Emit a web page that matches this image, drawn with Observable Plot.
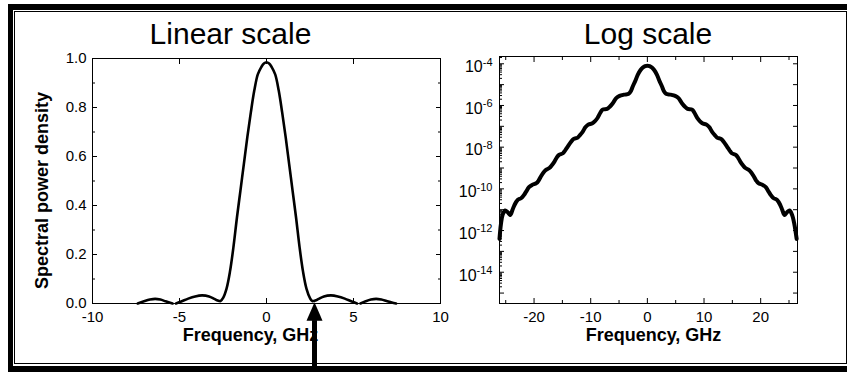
<!DOCTYPE html>
<html><head><meta charset="utf-8">
<script src="https://cdn.jsdelivr.net/npm/d3@7"></script>
<script src="https://cdn.jsdelivr.net/npm/@observablehq/plot@0.6"></script>
<style>
html,body{margin:0;padding:0;background:#fff;}
#stage{position:relative;width:847px;height:372px;overflow:hidden;font-family:"Liberation Sans",Arial,sans-serif;color:#000;}
.abs{position:absolute;}
#outer{left:8px;top:4px;width:900px;height:400px;background:#000;}
#inner{left:13px;top:10px;width:900px;height:356px;background:#fff;}
#line{left:14px;top:11px;width:833px;height:353px;border:1px solid #000;box-sizing:border-box;}
.ptitle{font-size:30px;line-height:30px;white-space:nowrap;transform:translateX(-50%);top:18.6px;}
#lin,#log{position:absolute;top:0;}
#lin{left:0;}
#log{left:440px;}
</style></head>
<body>
<div id="stage">
  <div id="outer" class="abs"></div>
  <div id="inner" class="abs"></div>
  <div id="line" class="abs"></div>
  <div class="abs ptitle" style="left:230.5px">Linear scale</div>
  <div class="abs ptitle" style="left:648px">Log scale</div>
  <div id="lin"></div>
  <div id="log"></div>
</div>
<script>
// ---- Data ----
// Linear-scale spectrum (GHz, normalised spectral power density); null = gap in the drawn curve
const linFreq = [-7.4, -7.0, -6.7, -6.4, -6.1, -5.8, -5.4, -5.3, -5.2, -4.9, -4.5, -4.1, -3.7, -3.3, -3.0, -2.8, -2.64, -2.5, -2.3, -2.1, -1.9, -1.7, -1.5, -1.3, -1.1, -0.9, -0.7, -0.5, -0.3, -0.15, 0, 0.15, 0.3, 0.5, 0.7, 0.9, 1.1, 1.3, 1.5, 1.7, 1.9, 2.1, 2.3, 2.5, 2.63, 2.8, 3.0, 3.3, 3.7, 4.1, 4.5, 4.9, 5.2, 5.3, 5.4, 5.7, 6.0, 6.3, 6.6, 6.9, 7.2, 7.45];
const linPower = [0.0, 0.010, 0.016, 0.019, 0.016, 0.009, 0.0, null, 0.0, 0.008, 0.020, 0.029, 0.033, 0.029, 0.019, 0.012, 0.010, 0.022, 0.06, 0.13, 0.23, 0.35, 0.46, 0.57, 0.68, 0.78, 0.87, 0.935, 0.965, 0.98, 0.985, 0.98, 0.965, 0.935, 0.87, 0.78, 0.68, 0.57, 0.46, 0.35, 0.23, 0.13, 0.06, 0.022, 0.010, 0.012, 0.019, 0.029, 0.033, 0.029, 0.020, 0.008, 0.0, null, 0.0, 0.009, 0.016, 0.019, 0.016, 0.010, 0.004, 0.0];

// Log-scale spectrum (GHz, log10 of spectral power density)
const logFreq = [-26.1, -25.85, -25.55, -25.1, -24.65, -24.2, -23.8, -23.5, -22.9, -22.3, -21.8, -21.4, -20.9, -20.35, -19.6, -19.2, -18.8, -18.3, -17.9, -17.3, -16.9, -16.4, -16.0, -15.6, -14.9, -14.5, -14.06, -13.5, -13.0, -12.3, -11.9, -11.4, -10.95, -10.5, -9.7, -9.25, -8.8, -8.3, -7.9, -7.1, -6.6, -6.1, -5.5, -4.9, -4.1, -3.3, -2.9, -2.6, -2.1, -1.7, -1.2, -0.8, -0.4, 0, 0.4, 0.8, 1.2, 1.7, 2.1, 2.6, 2.9, 3.3, 4.1, 4.9, 5.5, 6.1, 6.6, 7.1, 7.9, 8.3, 8.8, 9.25, 9.7, 10.5, 10.95, 11.4, 11.9, 12.3, 13.0, 13.5, 14.06, 14.5, 14.9, 15.6, 16.0, 16.4, 16.9, 17.3, 17.9, 18.3, 18.8, 19.2, 19.6, 20.35, 20.9, 21.4, 21.8, 22.3, 22.9, 23.5, 23.8, 24.2, 24.65, 25.1, 25.55, 25.95, 26.35];
const logPowerExp = [-12.4, -11.7, -11.25, -11.04, -11.12, -11.25, -11.0, -10.8, -10.53, -10.45, -10.3, -10.13, -9.92, -9.81, -9.73, -9.6, -9.41, -9.2, -9.09, -9.0, -8.88, -8.69, -8.5, -8.37, -8.29, -8.15, -7.97, -7.75, -7.6, -7.54, -7.42, -7.25, -7.05, -6.93, -6.85, -6.75, -6.6, -6.35, -6.2, -6.16, -6.05, -5.89, -5.65, -5.54, -5.48, -5.44, -5.3, -5.1, -4.8, -4.53, -4.3, -4.18, -4.11, -4.09, -4.11, -4.18, -4.3, -4.53, -4.8, -5.1, -5.3, -5.44, -5.48, -5.54, -5.65, -5.89, -6.05, -6.16, -6.2, -6.35, -6.6, -6.75, -6.85, -6.93, -7.05, -7.25, -7.42, -7.54, -7.6, -7.75, -7.97, -8.15, -8.29, -8.37, -8.5, -8.69, -8.88, -9.0, -9.09, -9.2, -9.41, -9.6, -9.73, -9.81, -9.92, -10.13, -10.3, -10.45, -10.53, -10.8, -11.0, -11.25, -11.12, -11.04, -11.25, -11.7, -12.4];

// Tick values / labels
const linXTicks = [-10, -5, 0, 5, 10];
const linXInner = [-5, 0, 5];
const linYTicks = [0, 0.2, 0.4, 0.6, 0.8, 1.0];
const linYMinor = [0.1, 0.3, 0.5, 0.7, 0.9];
const logXTicks = [-20, -10, 0, 10, 20];
const logXMinor = [-25, -15, -5, 5, 15, 25];
const logYLabelExp = [-4, -6, -8, -10, -12, -14];
const logYDecadeExp = [-15, -14, -13, -12, -11, -10, -9, -8, -7, -6, -5, -4];
const arrowFreq = [2.76];   // arrow marks the first spectral null

const FONT = '"Liberation Sans", Arial, sans-serif';
const linData = linFreq.map((f, i) => ({f, p: linPower[i] == null ? NaN : linPower[i]}));
const logData = logFreq.map((f, i) => ({f, p: Math.pow(10, logPowerExp[i])}));
const decades = logYDecadeExp.map(e => Math.pow(10, e));
const logMinor = [];
logYDecadeExp.forEach(e => { for (let m = 2; m <= 9; m++) { const v = m * Math.pow(10, e); if (v < Math.pow(10, -3.65)) logMinor.push(v); } });

const blank = () => "";
const arrowHead = {draw(ctx) { ctx.moveTo(-8, 0); ctx.lineTo(8, 0); ctx.lineTo(0, -18.5); ctx.closePath(); }};

const lin = Plot.plot({
  width: 460, height: 372,
  marginLeft: 92, marginRight: 20, marginTop: 58, marginBottom: 69,
  style: {fontFamily: FONT, fontSize: "15px", background: "transparent", overflow: "visible", color: "#000"},
  x: {domain: [-10, 10]},
  y: {domain: [0, 1]},
  marks: [
    Plot.frame({stroke: "#000"}),
    Plot.axisX({anchor: "bottom", ticks: linXTicks, tickSize: 0, tickPadding: 8, tickFormat: d => String(d), label: null, fontSize: 15}),
    Plot.axisX({anchor: "bottom", ticks: linXInner, tickSize: -5, tickFormat: blank, label: null}),
    Plot.axisX({anchor: "top", ticks: linXInner, tickSize: -5, tickFormat: blank, label: null}),
    Plot.axisY({anchor: "left", ticks: linYTicks, tickSize: 0, tickPadding: 6, tickFormat: d => d.toFixed(1), label: null, fontSize: 15}),
    Plot.axisY({anchor: "left", ticks: linYTicks, tickSize: -5, tickFormat: blank, label: null}),
    Plot.axisY({anchor: "left", ticks: linYMinor, tickSize: -3, tickFormat: blank, label: null}),
    Plot.axisY({anchor: "right", ticks: linYTicks, tickSize: -5, tickFormat: blank, label: null}),
    Plot.axisY({anchor: "right", ticks: linYMinor, tickSize: -3, tickFormat: blank, label: null}),
    Plot.text(["Spectral power density"], {frameAnchor: "left", textAnchor: "middle", lineAnchor: "middle", rotate: -90, dx: -50, dy: 9.5, fontWeight: "bold", fontSize: 18}),
    Plot.text(["Frequency, GHz"], {frameAnchor: "bottom", textAnchor: "middle", lineAnchor: "top", dy: 25, dx: -16, fontWeight: "bold", fontSize: 18}),
    Plot.line(linData, {x: "f", y: "p", curve: "catmull-rom", stroke: "#000", strokeWidth: 2.6, strokeLinejoin: "round"}),
    Plot.ruleX(arrowFreq, {x: d => d, y1: -0.32, y2: -0.07, stroke: "#000", strokeWidth: 5}),
    Plot.dot(arrowFreq, {x: d => d, y: -0.07, r: 5, symbol: arrowHead, fill: "#000", stroke: null})
  ]
});
document.getElementById("lin").appendChild(lin);

const log = Plot.plot({
  width: 407, height: 372,
  marginLeft: 59, marginRight: 50, marginTop: 56, marginBottom: 69,
  style: {fontFamily: FONT, fontSize: "15px", background: "transparent", overflow: "visible", color: "#000"},
  x: {domain: [-26.1, 26.5]},
  y: {type: "log", domain: [Math.pow(10, -15.5), Math.pow(10, -3.65)]},
  marks: [
    Plot.frame({stroke: "#000"}),
    Plot.axisX({anchor: "bottom", ticks: logXTicks, tickSize: 0, tickPadding: 8, tickFormat: d => String(d), label: null, fontSize: 15}),
    Plot.axisX({anchor: "bottom", ticks: logXTicks, tickSize: -5, tickFormat: blank, label: null}),
    Plot.axisX({anchor: "bottom", ticks: logXMinor, tickSize: -3, tickFormat: blank, label: null}),
    Plot.axisX({anchor: "top", ticks: logXTicks, tickSize: -5, tickFormat: blank, label: null}),
    Plot.axisX({anchor: "top", ticks: logXMinor, tickSize: -3, tickFormat: blank, label: null}),
    Plot.axisY({anchor: "left", ticks: logYLabelExp.map(e => Math.pow(10, e)), tickSize: 0, tickPadding: 7,
      tickFormat: d => "10^" + Math.round(Math.log10(d)), label: null, fontSize: 16}),
    Plot.axisY({anchor: "left", ticks: decades, tickSize: -5, tickFormat: blank, label: null}),
    Plot.axisY({anchor: "left", ticks: logMinor, tickSize: -3, tickFormat: blank, label: null}),
    Plot.axisY({anchor: "right", ticks: decades, tickSize: -5, tickFormat: blank, label: null}),
    Plot.text(["Frequency, GHz"], {frameAnchor: "bottom", textAnchor: "middle", lineAnchor: "top", dy: 25, dx: 5, fontWeight: "bold", fontSize: 18}),
    Plot.line(logData, {x: "f", y: "p", curve: "catmull-rom", stroke: "#000", strokeWidth: 4, strokeLinejoin: "round"})
  ]
});
document.getElementById("log").appendChild(log);

// superscript exponents on the log tick labels
log.querySelectorAll("text").forEach(t => {
  const s = t.textContent;
  if (!s.includes("^")) return;
  const [base, exp] = s.split("^");
  t.textContent = "";
  const ns = "http://www.w3.org/2000/svg";
  const a = document.createElementNS(ns, "tspan");
  a.setAttribute("dy", "0.2em");
  a.textContent = base;
  const b = document.createElementNS(ns, "tspan");
  b.setAttribute("dy", "-0.6em");
  b.setAttribute("font-size", "11px");
  b.textContent = exp;
  t.appendChild(a); t.appendChild(b);
});
</script>
</body></html>
